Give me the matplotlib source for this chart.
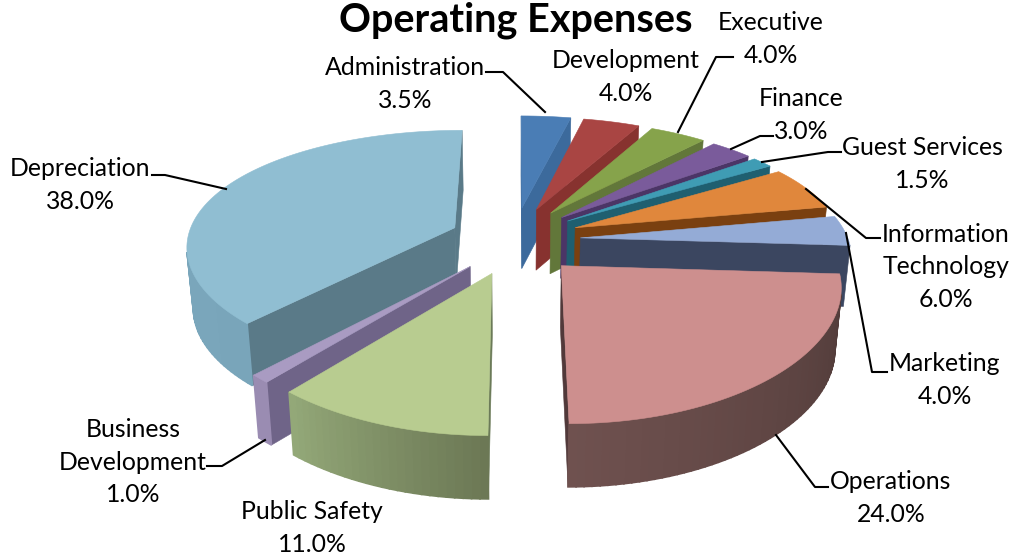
import numpy as np
import matplotlib
matplotlib.use("Agg")
import matplotlib.pyplot as plt
from matplotlib.colors import to_rgb

CATEGORIES = ["Administration", "Development", "Executive", "Finance",
              "Guest Services", "Information\nTechnology", "Marketing",
              "Operations", "Public Safety", "Business\nDevelopment", "Depreciation"]
VALUES = [3.5, 4.0, 4.0, 3.0, 1.5, 6.0, 4.0, 24.0, 11.0, 1.0, 38.0]

TOP_COLORS = ["#4a7db5", "#a94543", "#86a34b", "#7a5b9b", "#3f9cb4", "#e0873c",
              "#94abd6", "#cd8f8e", "#b8cc90", "#a99bc2", "#90bed2"]
WALL_COLORS = ["#3c6a9c", "#87322f", "#62773a", "#4b3566", "#1f5f70", "#7a4010",
               "#3b4660", "#51393a", "#6b7a58", "#6f6488", "#5a7a88"]
OUTER_START = ["#4a7db5", "#a94543", "#86a34b", "#7a5b9b", "#3f9cb4", "#e0873c",
               "#5f6f95", "#4f3a38", "#6c7855", "#9a8cb2", "#79a5ba"]
OUTER_END = ["#4a7db5", "#a94543", "#86a34b", "#7a5b9b", "#3f9cb4", "#e0873c",
             "#5f6f95", "#6f514f", "#93a878", "#9a8cb2", "#7fabc0"]

# back to front
DRAW_ORDER = [0, 1, 2, 3, 4, 5, 6, 10, 9, 8, 7]

TITLE = "Operating Expenses"

# label centre and leader line, in picture pixels
LABEL_POS = [(405, 84), (626, 77), (771, 39), (801, 115), (922, 164), (946, 267),
             (945, 380), (891, 498), (312, 528), (133, 462), (80, 185)]
LEADERS = [
    [(486, 72), (503, 72), (545, 112)],
    None,
    [(733, 57), (716, 57), (678, 132)],
    [(773, 136), (760, 136), (731, 149)],
    [(841, 152), (828, 152), (762, 162)],
    [(880, 238), (866, 238), (806, 189)],
    [(887, 372), (872, 372), (846, 233)],
    [(828, 487), (815, 487), (776, 435)],
    None,
    [(207, 466), (222, 466), (265, 440)],
    [(152, 175), (165, 175), (226, 189)],
]

# projection
CX, CY = 515, 240
RX, RY = 268, 119
PERSP = 0.18
PERSP_X = 0.14
EXPLODE_X, EXPLODE_Y = 0.245, 0.285
DEPTH = 61
BASE_SHRINK = 0.98


def project(x, y):
    return CX + RX * x / (1 + PERSP_X * y), CY - RY * y / (1 + PERSP * y)


def drop(p):
    # a touch deeper towards the front
    return CX + (p[0] - CX) * BASE_SHRINK, p[1] + DEPTH + (p[1] - CY) * 0.012


def signed_area(pts):
    a = np.array(pts)
    b = np.roll(a, -1, axis=0)
    return np.sum(a[:, 0] * b[:, 1] - b[:, 0] * a[:, 1])


def face(ax, pts, color, lw=0.4):
    # only faces turned to the viewer
    if signed_area(pts) < 0:
        ax.fill(*zip(*pts), color=color, lw=lw, zorder=2)


def draw_slice(ax, i, a0, a1):
    mid = (a0 + a1) / 2
    ox, oy = EXPLODE_X * np.sin(mid), EXPLODE_Y * np.cos(mid)
    thetas = np.linspace(a0, a1, max(int((a1 - a0) * 40), 3))
    apex = project(ox, oy)
    rim = [project(ox + np.sin(t), oy + np.cos(t)) for t in thetas]

    face(ax, [apex, rim[0], drop(rim[0]), drop(apex)], WALL_COLORS[i])
    face(ax, [rim[-1], apex, drop(apex), drop(rim[-1])], WALL_COLORS[i])

    c0, c1 = np.array(to_rgb(OUTER_START[i])), np.array(to_rgb(OUTER_END[i]))
    for k in range(len(rim) - 1):
        col = c0 + (c1 - c0) * k / (len(rim) - 2)
        face(ax, [rim[k], rim[k + 1], drop(rim[k + 1]), drop(rim[k])], tuple(col), lw=1.2)

    ax.fill(*zip(*([apex] + rim)), color=TOP_COLORS[i], lw=0.4, zorder=2)


fig = plt.figure(figsize=(10.12, 5.54), dpi=100)
ax = fig.add_axes([0, 0, 1, 1])
ax.set_xlim(0, 1012)
ax.set_ylim(554, 0)
ax.axis("off")

edges = np.concatenate([[0], np.cumsum(VALUES)]) / sum(VALUES) * 2 * np.pi
for i in DRAW_ORDER:
    draw_slice(ax, i, edges[i], edges[i + 1])

for i, name in enumerate(CATEGORIES):
    x, y = LABEL_POS[i]
    ax.text(x, y, f"{name}\n{VALUES[i]:.1f}%", ha="center", va="center", family="Lato",
            fontsize=17.8, linespacing=1.5, color="black", zorder=4)
    if LEADERS[i]:
        ax.plot(*zip(*LEADERS[i]), color="black", lw=1.5, zorder=3)

ax.text(516, 20, TITLE, ha="center", va="center", family="Lato", fontweight="bold",
        fontsize=28.5, color="black", zorder=4)

fig.savefig("out.png", dpi=100)
